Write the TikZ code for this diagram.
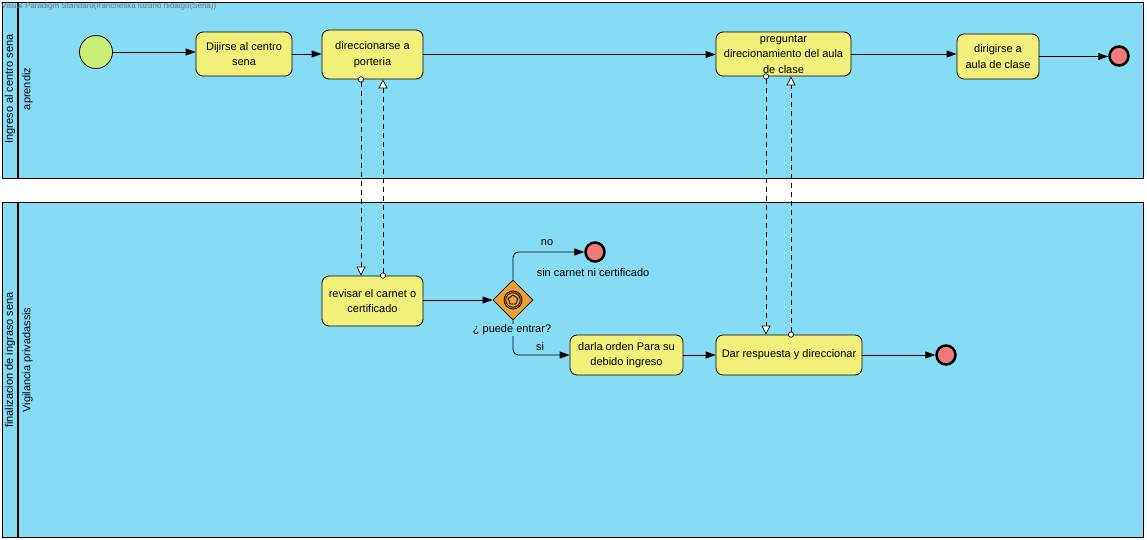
\documentclass[tikz,border=0pt]{standalone}
\usepackage{fontspec}
\setmainfont{Liberation Sans}
\usetikzlibrary{arrows.meta,shapes.geometric}
\definecolor{poolblue}{RGB}{135,220,245}
\definecolor{taskyellow}{RGB}{240,240,122}
\definecolor{startgreen}{RGB}{200,240,120}
\definecolor{endred}{RGB}{240,122,122}
\definecolor{gworange}{RGB}{240,160,50}
\definecolor{titlegray}{RGB}{110,110,110}
\begin{document}
\begin{tikzpicture}[x=1pt,y=-1pt, font=\fontsize{11}{15.5}\selectfont,
 task/.style={draw=black, fill=taskyellow, rounded corners=7pt, align=center, inner sep=0pt, line width=0.8pt},
 flow/.style={-{Triangle[length=10pt,width=7pt]}, line width=0.8pt},
 msg/.style={dash pattern=on 5pt off 4pt, {Circle[fill=white,length=6pt,width=6pt]}-{Triangle[fill=white,length=9pt,width=9pt]}, line width=0.7pt},
 endev/.style={circle, draw=black, fill=endred, line width=2.5pt, minimum size=19pt, inner sep=0pt},
 startev/.style={circle, draw=black, fill=startgreen, line width=0.8pt, minimum size=33pt, inner sep=0pt},
 lbl/.style={inner sep=1pt},
 ]
\useasboundingbox (0,0) rectangle (1147,540);
\fill[white] (0,0) rectangle (1147,540);
% pools
\draw[fill=poolblue, line width=0.8pt] (2,2) rectangle (1143,178);
\draw[line width=1.6pt] (18,2) -- (18,178);
\draw[fill=poolblue, line width=0.8pt] (2,202) rectangle (1143,537);
\draw[line width=1.6pt] (18,202) -- (18,537);
\node[rotate=90, lbl] (p1a) at (10,89) {Ingreso al centro sena};
\node[rotate=90, lbl] (p1b) at (27.5,89) {aprendiz};
\node[rotate=90, lbl] (p2a) at (10,360) {finalizacion de ingraso sena};
\node[rotate=90, lbl] (p2b) at (27.5,360) {Vigilancia privadassis};
\node[anchor=west, text=titlegray, font=\fontsize{8}{9}\selectfont, inner sep=0pt] (title) at (1,6) {Visual Paradigm Standard(francheska lozano hidalgo(Sena))};
% upper pool
\node[startev] (start) at (96,52) {};
\node[task, minimum width=96pt, minimum height=44pt] (t1) at (244,54) {Dijirse al centro\\sena};
\node[task, minimum width=101pt, minimum height=49pt] (t2) at (372.5,54.5) {direccionarse a\\porteria};
\node[task, minimum width=135pt, minimum height=44pt] (t3) at (783.5,54) {preguntar\\direcionamiento del aula\\de clase};
\node[task, minimum width=82pt, minimum height=45pt] (t4) at (998,56.5) {dirigirse a\\aula de clase};
\node[endev] (e1) at (1119,56) {};
% lower pool
\node[task, minimum width=101pt, minimum height=50pt] (t5) at (372.5,301) {revisar el carnet o\\certificado};
\node[diamond, draw=black, fill=gworange, minimum width=40pt, minimum height=40pt, inner sep=0pt, line width=0.8pt] (gw) at (513,300) {};
\draw[line width=0.8pt] (gw.center) circle (9pt) (gw.center) circle (7.3pt);
\node[regular polygon, regular polygon sides=5, draw=black, line width=0.8pt, minimum size=10pt, inner sep=0pt] (gwsym) at (gw.center) {};
\node[endev] (e2) at (595,252) {};
\node[lbl] (e2l) at (593,273) {sin carnet ni certificado};
\node[task, minimum width=113pt, minimum height=40pt] (t6) at (626.5,355) {darla orden Para su\\debido ingreso};
\node[task, minimum width=146pt, minimum height=40pt] (t7) at (789,355) {Dar respuesta y direccionar};
\node[endev] (e3) at (946,355) {};
% sequence flows
\draw[flow] (start.east) -- (start.east -| t1.west);
\draw[flow] (t1.east) -- (t1.east -| t2.west);
\draw[flow] (t2.east) -- (t2.east -| t3.west);
\draw[flow] (t3.east) -- (t3.east -| t4.west);
\draw[flow] (t4.east) -- (t4.east -| e1.west);
\draw[flow] (t5.east |- gw.west) -- (gw.west);
\draw[flow, rounded corners=5pt] (gw.north) |- (e2.west);
\draw[flow, rounded corners=5pt] (gw.south) |- (t6.west);
\node[fill=poolblue, lbl] (gwl) at (512,330) {¿ puede entrar?};
\node[lbl] (nol) at (547,243) {no};
\node[lbl] (sil) at (540,347) {si};
\draw[flow] (t6.east) -- (t7.west);
\draw[flow] (t7.east) -- (e3.west);
% message flows
\draw[msg] ([xshift=-11.5pt,yshift=3pt]t2.south) -- ([xshift=-11.5pt]t5.north);
\draw[msg] ([xshift=10.5pt,yshift=-3pt]t5.north) -- ([xshift=10.5pt]t2.south);
\draw[msg] ([xshift=-17.5pt,yshift=3pt]t3.south) -- ([xshift=-23pt]t7.north);
\draw[msg] ([xshift=2pt,yshift=-3pt]t7.north) -- ([xshift=7.5pt]t3.south);
\end{tikzpicture}
\end{document}
